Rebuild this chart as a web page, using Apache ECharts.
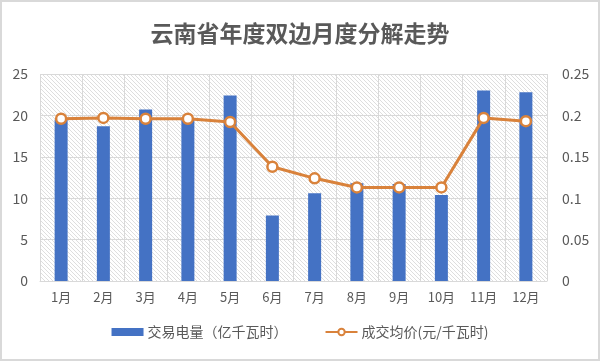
<!DOCTYPE html>
<html><head><meta charset="utf-8">
<script src="https://cdn.jsdelivr.net/npm/echarts@6/dist/echarts.min.js"></script>
<style>html,body{margin:0;padding:0;background:#fff}#c{width:600px;height:361px}</style>
</head><body><div id="c"></div>
<script>
const months = ['1月','2月','3月','4月','5月','6月','7月','8月','9月','10月','11月','12月'];
const volume = [19.5, 18.7, 20.7, 19.6, 22.4, 7.9, 10.6, 11.8, 11.7, 10.4, 23.0, 22.8];
const price = [0.196, 0.197, 0.196, 0.196, 0.192, 0.138, 0.124, 0.113, 0.113, 0.113, 0.197, 0.193];
const leftTicks = [0, 5, 10, 15, 20, 25];
const rightTicks = [0, 0.05, 0.1, 0.15, 0.2, 0.25];

const pc = document.createElement('canvas');
pc.width = 4; pc.height = 4;
const g = pc.getContext('2d');
g.fillStyle = '#ffffff'; g.fillRect(0,0,4,4);
g.strokeStyle = '#dedede'; g.lineWidth = 1;
g.beginPath();
g.moveTo(0,0); g.lineTo(4,4);
g.moveTo(-2,2); g.lineTo(2,6);
g.moveTo(2,-2); g.lineTo(6,2);
g.stroke();

const font = '"Microsoft YaHei","Noto Sans CJK SC",sans-serif';
const chart = echarts.init(document.getElementById('c'));
chart.setOption({
  animation: false,
  textStyle: {fontFamily: font},
  graphic: [{type:'rect', shape:{x:1,y:1,width:598,height:359}, style:{fill:'none', stroke:'#d9d9d9', lineWidth:2}, silent:true}],
  title: {text:'云南省年度双边月度分解走势', left:'center', top:17,
    textStyle:{fontSize:23, fontWeight:'bold', color:'#595959', fontFamily:font}},
  grid: {left:40, right:53, top:74, bottom:80, show:true, borderWidth:0,
    backgroundColor:{image:pc, repeat:'repeat'}},
  legend: {bottom:17, left:'center', itemGap:37, textStyle:{color:'#595959', fontSize:14, padding:[0,0,0,-1]},
    data:[{name:'交易电量（亿千瓦时）', icon:'rect'}, {name:'成交均价(元/千瓦时)'}],
    itemWidth:32, itemHeight:8},
  xAxis: {type:'category', data:months, axisTick:{show:false},
    axisLine:{lineStyle:{color:'#d9d9d9'}},
    axisLabel:{color:'#595959', fontSize:13, margin:10},
    splitLine:{show:true, lineStyle:{color:'#d9d9d9'}}},
  yAxis: [
    {type:'value', min:leftTicks[0], max:leftTicks[leftTicks.length-1], interval:5,
     axisLabel:{color:'#595959', fontSize:14, margin:12},
     splitLine:{lineStyle:{color:'#d9d9d9'}}, axisLine:{show:false}},
    {type:'value', min:rightTicks[0], max:rightTicks[rightTicks.length-1], interval:0.05,
     axisLabel:{color:'#595959', fontSize:14, margin:15, formatter:v=>String(+v.toFixed(2))},
     splitLine:{show:false}, axisLine:{show:false}}
  ],
  series: [
    {name:'交易电量（亿千瓦时）', type:'bar', data:volume, barWidth:13, itemStyle:{color:'#4472C4'}},
    {name:'成交均价(元/千瓦时)', type:'line', yAxisIndex:1, data:price,
     symbol:'circle', symbolSize:10, lineStyle:{color:'#D9823B', width:3},
     itemStyle:{color:'#ffffff', borderColor:'#D9823B', borderWidth:2.5}}
  ]
});
</script></body></html>
